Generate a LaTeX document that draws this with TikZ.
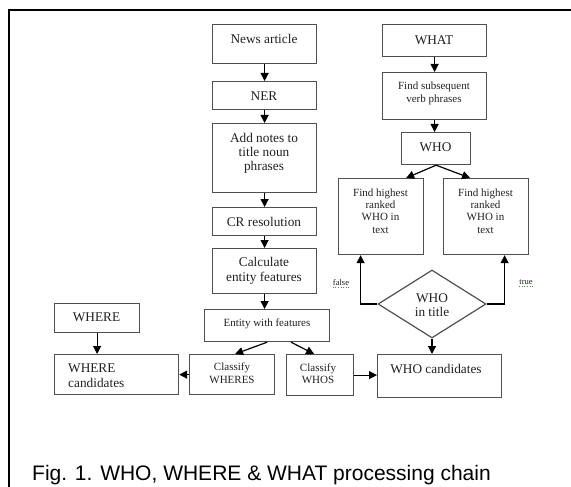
\documentclass[tikz,border=0pt]{standalone}
\usepackage{fontspec}
\setmainfont{Liberation Serif}
\newfontfamily\capfont{Liberation Sans}
\usetikzlibrary{arrows.meta,shapes.geometric}
\definecolor{boxgray}{HTML}{505050}
\definecolor{txtgray}{HTML}{202020}
\definecolor{spellgreen}{HTML}{3C9A3C}
\begin{document}
\begin{tikzpicture}[x=1pt,y=-1pt,
  box/.style={draw=boxgray, line width=1.2pt, anchor=north west, inner sep=0pt},
  big/.style={font=\fontsize{13.3}{14}\selectfont, align=center, inner sep=0pt, text=txtgray},
  sm/.style={font=\fontsize{11}{12.5}\selectfont, align=center, inner sep=0pt, text=txtgray},
  tiny/.style={font=\fontsize{8.5}{9}\selectfont, inner sep=0pt, text=txtgray},
  arr/.style={-{Triangle[length=8pt,width=8pt]}, line width=1.2pt, draw=black},
]
\useasboundingbox (0,0) rectangle (571,487);
\draw[line width=2pt] (9,487) -- (9,10) -- (571,10);

% left chain
\node[box, minimum width=104pt, minimum height=39pt] (news) at (212,24) {};
\node[big] (newst) at (264,39) {News article};
\node[box, minimum width=104pt, minimum height=28pt] (ner) at (212,81) {};
\node[big] (nert) at (264,96) {NER};
\node[box, minimum width=104pt, minimum height=69pt] (notes) at (212,123) {};
\node[big] (notest) at (264,153) {Add notes to\\title noun\\phrases};
\node[box, minimum width=104pt, minimum height=28pt] (cr) at (212,207) {};
\node[big] (crt) at (264,222) {CR resolution};
\node[box, minimum width=104pt, minimum height=45pt] (calc) at (212,248) {};
\node[big, font=\fontsize{13.3}{15}\selectfont] (calct) at (264,270.5) {Calculate\\entity features};
\node[box, minimum width=125pt, minimum height=32pt] (ent) at (204,309) {};
\node[sm] (entt) at (267,324) {Entity with features};

\node[box, minimum width=85pt, minimum height=29pt] (where) at (54,303) {};
\node[big] (wheret) at (96.5,317) {WHERE};
\node[box, minimum width=124pt, minimum height=40pt] (wherec) at (54,354) {};
\node[big, align=left, anchor=west, font=\fontsize{13.3}{15}\selectfont] (wherect) at (68,375.5) {WHERE\\candidates};
\node[box, minimum width=85pt, minimum height=40pt] (clwhere) at (189,354) {};
\node[sm] (clwheret) at (232,373) {Classify\\WHERES};
\node[box, minimum width=67pt, minimum height=41pt] (clwho) at (286,354) {};
\node[sm] (clwhot) at (318,373.5) {Classify\\WHOS};
\node[box, minimum width=124pt, minimum height=43pt] (whoc) at (377,354) {};
\node[big] (whoct) at (436,369) {WHO candidates};

% right chain
\node[box, minimum width=104pt, minimum height=32pt] (what) at (382,24) {};
\node[big] (whatt) at (434,40) {WHAT};
\node[box, minimum width=104pt, minimum height=47pt] (fsv) at (382,72) {};
\node[sm, font=\fontsize{11}{13}\selectfont] (fsvt) at (434,93) {Find subsequent\\verb phrases};
\node[box, minimum width=69pt, minimum height=32pt] (who) at (401,132) {};
\node[big] (whot) at (435.5,147) {WHO};
\node[box, minimum width=85pt, minimum height=76pt] (fhl) at (338,178) {};
\node[sm, font=\fontsize{11}{12.4}\selectfont] (fhlt) at (380.5,211) {Find highest\\ranked\\WHO in\\text};
\node[box, minimum width=85pt, minimum height=76pt] (fhr) at (443,178) {};
\node[sm, font=\fontsize{11}{12.4}\selectfont] (fhrt) at (485.5,211) {Find highest\\ranked\\WHO in\\text};

\node[draw=boxgray, line width=1.2pt, shape=diamond, minimum width=108pt, minimum height=68pt, inner sep=0pt, shape aspect=1.59] (dia) at (432,304) {};
\node[big] (diat) at (432,305) {WHO\\in title};

\node[tiny] (falset) at (341,283) {false};
\node[tiny] (truet) at (526,282) {true};
\draw[spellgreen, line width=0.6pt, dotted] ([yshift=-1.2pt]falset.south west) -- ([yshift=-1.2pt]falset.south east);
\draw[spellgreen, line width=0.6pt, dotted] ([yshift=-1.2pt]truet.south west) -- ([yshift=-1.2pt]truet.south east);

% arrows
\draw[arr] (news.south) -- (ner.north);
\draw[arr] (ner.south) -- (notes.north);
\draw[arr] (notes.south) -- (cr.north);
\draw[arr] (cr.south) -- (calc.north);
\draw[arr] (calc.south) -- (calc.south |- ent.north);
\draw[arr] (ent.south) -- ([xshift=3pt]clwhere.north);
\draw[arr] ([xshift=24pt]ent.south) -- ([xshift=-6pt]clwho.north);
\draw[arr] (clwhere.west) -- (wherec.east);
\draw[arr] (where.south) -- (where.south |- wherec.north);
\draw[arr] (clwho.east) -- (clwho.east -| whoc.west);
\draw[arr] (dia.south) -- (dia.south |- whoc.north);
\draw[arr] (what.south) -- (what.south |- fsv.north);
\draw[arr] (fsv.south) -- (fsv.south |- who.north);
\draw[arr] (who.south) -- ([xshift=25pt]fhl.north);
\draw[arr] (who.south) -- ([xshift=-16pt]fhr.north);
\draw[arr] (dia.west) -| ([xshift=-20.5pt]fhl.south);
\draw[arr] (dia.east) -| ([xshift=18.5pt]fhr.south);

\node[anchor=base west, inner sep=0pt, font=\capfont\fontsize{21}{23}\selectfont] (caption) at (32,480) {Fig. 1. WHO, WHERE \& WHAT processing chain};
\end{tikzpicture}
\end{document}
